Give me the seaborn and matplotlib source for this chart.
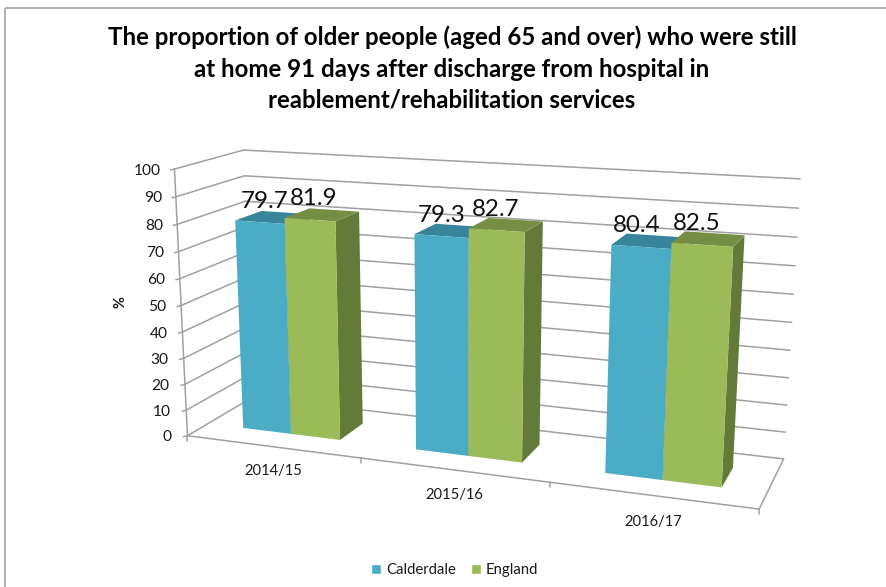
import numpy as np
import pandas as pd
import seaborn as sns
import matplotlib
matplotlib.use("Agg")
import matplotlib.pyplot as plt
from matplotlib.patches import Patch, Polygon
from matplotlib.transforms import Transform

# Chart values
periods = ["2014/15", "2015/16", "2016/17"]
calderdale = [79.7, 79.3, 80.4]
england = [81.9, 82.7, 82.5]
value_ticks = list(range(0, 101, 10))
title_lines = [
    "The proportion of older people (aged 65 and over) who were still",
    "at home 91 days after discharge from hospital in",
    "reablement/rehabilitation services",
]

W, H = 886, 587
FONT = "Lato"
INK = "#1a1a1a"
GRID = "#a0a0a0"

sns.set_theme(style="white")
plt.rcParams["font.family"] = [FONT, "DejaVu Sans"]
front_colors = sns.color_palette(["#4BACC6", "#9BBB59"])
top_colors = ["#37849B", "#768E44"]
side_colors = ["#2F7386", "#647A38"]

# Pixel positions of the plot box corners: (along x, into depth, up) -> pixel
box_corners = [
    ((0, 0, 0), (189, 435)),
    ((0, 0, 1), (173, 169)),
    ((0, 1, 0), (251, 398)),
    ((0, 1, 1), (245, 150)),
    ((1, 1, 0), (784, 458)),
    ((1, 1, 1), (800, 179)),
    ((1, 0, 0), (759, 510)),
]


def solve_camera(corners):
    rows = []
    for (x, y, z), (px, py) in corners:
        p = [x, y, z, 1]
        rows.append(p + [0, 0, 0, 0] + [-px * c for c in p])
        rows.append([0, 0, 0, 0] + p + [-py * c for c in p])
    return np.linalg.svd(np.array(rows, float))[2][-1].reshape(3, 4)


CAMERA = solve_camera(box_corners)


def project(u, v, w):
    h = CAMERA @ np.array([u, v, w, 1.0])
    return h[:2] / h[2]


BAR_FRONT, BAR_BACK = 0.30, 0.70
n_cat = len(periods)


def to_u(x):
    return (np.asarray(x, float) + 0.5) / n_cat


def to_w(value):
    return np.asarray(value, float) / 100.0


class FrontPlane(Transform):
    """Maps (category position, value) on the bars' front plane to pixels."""
    input_dims = output_dims = 2

    def __init__(self, plane):
        super().__init__()
        self.plane = plane

    def transform_non_affine(self, values):
        values = np.asarray(values, float)
        return np.array([project(to_u(a), self.plane, to_w(b)) for a, b in values])


fig = plt.figure(figsize=(W / 100, H / 100), dpi=100, facecolor="white")
ax = fig.add_axes([0, 0, 1, 1])

table = pd.DataFrame({
    "period": periods * 2,
    "series": ["Calderdale"] * n_cat + ["England"] * n_cat,
    "value": calderdale + england,
})
sns.barplot(data=table, x="period", y="value", hue="series", palette=front_colors,
            width=2 / 3.5, gap=0, saturation=1, legend=False, ax=ax, zorder=5)
ax.set_xlim(0, W)
ax.set_ylim(H, 0)
ax.axis("off")

# Outer chart frame
ax.add_patch(plt.Rectangle((5.5, 7.5), W + 20, H + 20, fc="none", ec="#b0b0b0", lw=1.4, zorder=1))


def line(p, q, color=GRID, lw=1.1, zorder=2):
    ax.plot([p[0], q[0]], [p[1], q[1]], color=color, lw=lw, zorder=zorder, solid_capstyle="round")


# Gridlines on the two walls, with value ticks on the front edge
for tick in value_ticks:
    w = to_w(tick)
    a, b, c = project(0, 0, w), project(0, 1, w), project(1, 1, w)
    line(a, b)
    line(b, c)
    line(a, a + np.array([-4, 1]))
    ax.text(a[0] - 13.5 - 2.5 * (1 - w), a[1] + 1.5, str(tick), ha="right", va="center",
            fontsize=11.2, color=INK, zorder=6)
line(project(0, 0, 0), project(0, 0, 1))

# Floor edges and category ticks
line(project(0, 0, 0), project(1, 0, 0))
line(project(1, 0, 0), project(1, 1, 0))
for i in range(n_cat + 1):
    p = project(i / n_cat, 0, 0)
    line(p, p + np.array([0, 5]))

for i, name in enumerate(periods):
    p = project((i + 0.5) / n_cat, 0, 0)
    ax.text(p[0] + 1, p[1] + 24 + 1.5 * i, name, ha="center", va="center", fontsize=10.6,
            color=INK, zorder=6)

# Bars: the front faces come from seaborn, side and top faces are built from them
front_plane = FrontPlane(BAR_FRONT)
order = 6
for s, container in enumerate(ax.containers):
    for bar in container:
        x0, x1 = bar.get_x(), bar.get_x() + bar.get_width()
        val = bar.get_height()
        u0, u1, w = to_u(x0), to_u(x1), to_w(val)
        top = [project(u0, BAR_FRONT, w), project(u1, BAR_FRONT, w),
               project(u1, BAR_BACK, w), project(u0, BAR_BACK, w)]
        side = [project(u1, BAR_FRONT, 0), project(u1, BAR_BACK, 0),
                project(u1, BAR_BACK, w), project(u1, BAR_FRONT, w)]
        ax.add_patch(Polygon(side, fc=side_colors[s], ec="none", zorder=order))
        ax.add_patch(Polygon(top, fc=top_colors[s], ec="none", zorder=order))
        bar.set_transform(front_plane + ax.transData)
        bar.set_zorder(order + 0.5)
        bar.set_clip_on(False)
        bar.set_linewidth(0)
        bar.set_edgecolor("none")
        order += 1
        centre = (u0 + u1) / 2
        anchor = project(centre, BAR_FRONT, w)
        ax.text(anchor[0] + 5.5 - 14 * (centre - 0.1), anchor[1] - 21, f"{val:.1f}",
                ha="center", va="center", fontsize=17.4, color="#111111", zorder=30)

ax.text(121, 302, "%", rotation=90, ha="center", va="center", fontsize=10.5,
        fontweight="bold", color=INK, zorder=6)

for y, text in zip([37, 69.5, 100.5], title_lines):
    ax.text(452, y, text, ha="center", va="center", fontsize=17.3, fontweight="bold",
            color="black", zorder=6)

ax.legend(handles=[Patch(fc=c, label=n) for c, n in zip(front_colors, ["Calderdale", "England"])],
          loc="center", bbox_to_anchor=(454.5 / W, 1 - 570 / H), ncol=2, frameon=False,
          fontsize=10.7, handlelength=0.68, handleheight=0.68, handletextpad=0.3, columnspacing=1.0,
          labelcolor=INK)

fig.savefig("out.png", dpi=100, facecolor="white")
